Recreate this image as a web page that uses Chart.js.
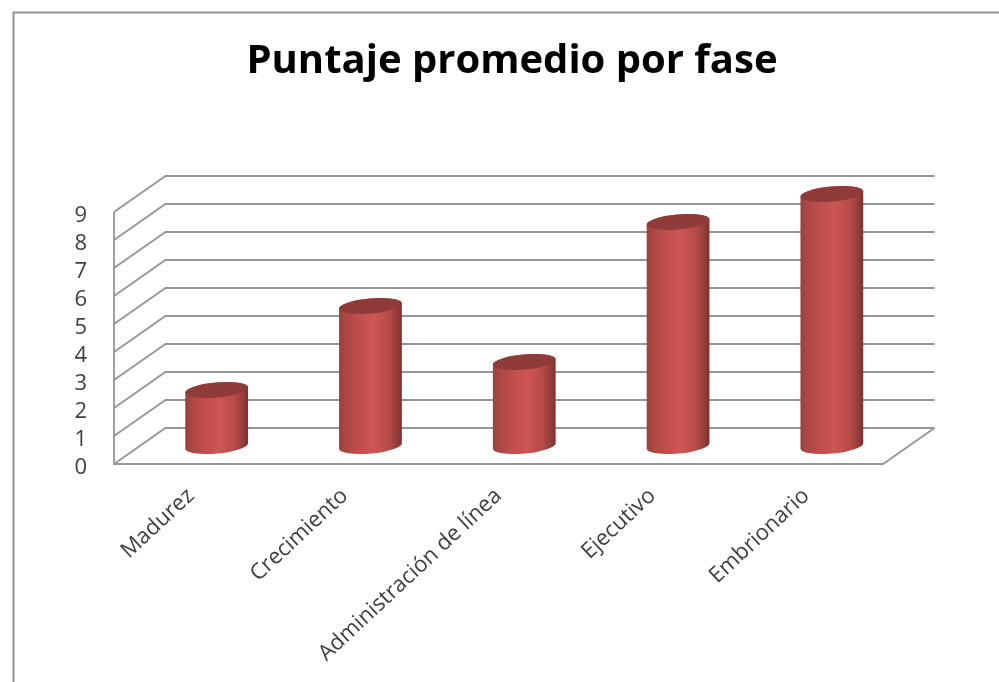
<!DOCTYPE html>
<html>
<head>
<meta charset="utf-8">
<style>
  html, body { margin: 0; padding: 0; background: #fff; overflow: hidden; }
  #wrap { position: absolute; left: 0; top: 0; width: 999px; height: 682px; }
</style>
<script src="https://cdn.jsdelivr.net/npm/chart.js@4"></script>
</head>
<body>
<div id="wrap"><canvas id="chart" width="999" height="682"></canvas></div>
<script>
const categories = ['Madurez', 'Crecimiento', 'Administración de línea', 'Ejecutivo', 'Embrionario'];
const scores = [2, 5, 3, 8, 9];
const chartTitle = 'Puntaje promedio por fase';

// Oblique projection of the 3D box: offset of the back wall from the front plane.
const DEPTH_X = 51.5;
const DEPTH_Y = -36;
const GRID_COLOR = '#969696';

// Rounded body shading across the width of each cylinder.
function bodyGradient(ctx, left, right) {
  const g = ctx.createLinearGradient(left, 0, right, 0);
  g.addColorStop(0, '#98403d');
  g.addColorStop(0.08, '#a84643');
  g.addColorStop(0.3, '#bf4e4b');
  g.addColorStop(0.55, '#cd5653');
  g.addColorStop(0.78, '#b74b48');
  g.addColorStop(0.93, '#923c3a');
  g.addColorStop(1, '#7a2f2d');
  return g;
}

const box3d = {
  id: 'box3d',
  afterLayout(chart) {
    // The title is centred on the chart frame, which runs past the right edge of the page.
    chart.titleBlock.left = 12;
    chart.titleBlock.right = 1012;
  },
  beforeDraw(chart) {
    const { ctx } = chart;
    ctx.save();
    ctx.strokeStyle = '#939393';
    ctx.lineWidth = 2;
    ctx.beginPath();
    ctx.moveTo(13.5, 682);
    ctx.lineTo(13.5, 12.5);
    ctx.lineTo(999, 12.5);
    ctx.stroke();
    ctx.restore();
  },
  beforeDatasetsDraw(chart) {
    const { ctx, chartArea: a, scales: { y } } = chart;
    ctx.save();
    ctx.strokeStyle = GRID_COLOR;
    ctx.lineWidth = 1.8;
    ctx.beginPath();
    // Front-left edge of the side wall.
    ctx.moveTo(a.left, y.getPixelForValue(y.max));
    ctx.lineTo(a.left, y.getPixelForValue(y.min));
    // Front edge and right edge of the floor.
    ctx.lineTo(a.right, y.getPixelForValue(y.min));
    ctx.lineTo(a.right + DEPTH_X, y.getPixelForValue(y.min) + DEPTH_Y);
    // Gridlines run along the side wall and across the back wall.
    for (const t of y.ticks) {
      const py = y.getPixelForValue(t.value);
      ctx.moveTo(a.left, py);
      ctx.lineTo(a.left + DEPTH_X, py + DEPTH_Y);
      ctx.lineTo(a.right + DEPTH_X, py + DEPTH_Y);
    }
    ctx.stroke();
    ctx.restore();
  },
  beforeDatasetDraw(chart, args) {
    const { ctx } = chart;
    const tilt = -0.09;
    for (const bar of args.meta.data) {
      const { x, y, base, width } = bar.getProps(['x', 'y', 'base', 'width'], true);
      // Cylinders stand halfway into the depth of the box.
      const cx = x + DEPTH_X / 2;
      const top = y + DEPTH_Y / 2;
      const bottom = base + DEPTH_Y / 2;
      const rx = width / 2;
      const ry = 7.6;
      ctx.save();
      ctx.beginPath();
      ctx.ellipse(cx, top, rx, ry, tilt, Math.PI, 0);
      ctx.ellipse(cx, bottom, rx, ry, tilt, 0, Math.PI);
      ctx.closePath();
      ctx.fillStyle = bodyGradient(ctx, cx - rx, cx + rx);
      ctx.fill();
      ctx.beginPath();
      ctx.ellipse(cx, top, rx, ry, tilt, 0, Math.PI * 2);
      ctx.fillStyle = '#8f3b39';
      ctx.fill();
      ctx.restore();
    }
    return false;
  }
};

new Chart(document.getElementById('chart'), {
  type: 'bar',
  data: {
    labels: categories,
    datasets: [{ data: scores, backgroundColor: '#C0504D', barThickness: 63 }]
  },
  options: {
    responsive: false,
    animation: false,
    layout: { padding: { left: 0, top: 0, right: 116, bottom: 0 } },
    plugins: {
      legend: { display: false },
      tooltip: { enabled: false },
      title: {
        display: true,
        text: chartTitle,
        color: '#000',
        font: { family: 'Open Sans', size: 40, weight: 'bold', lineHeight: 1 },
        // Padding fills the block above the plot down to its top edge.
        padding: { top: 42, bottom: 130 }
      }
    },
    scales: {
      x: {
        afterFit(scale) { scale.height = 218; },
        grid: { display: false, drawTicks: false },
        border: { display: false },
        ticks: {
          autoSkip: false,
          minRotation: 43,
          maxRotation: 43,
          padding: 19,
          labelOffset: 0,
          color: '#404040',
          font: { family: 'Open Sans', size: 22 }
        }
      },
      y: {
        min: 0,
        max: 9,
        afterFit(scale) { scale.width = 114; },
        grid: { display: false, drawTicks: false },
        border: { display: false },
        ticks: {
          autoSkip: false,
          stepSize: 1,
          padding: 27,
          labelOffset: 4,
          color: '#404040',
          font: { family: 'Open Sans', size: 22 }
        }
      }
    }
  },
  plugins: [box3d]
});
</script>
</body>
</html>
